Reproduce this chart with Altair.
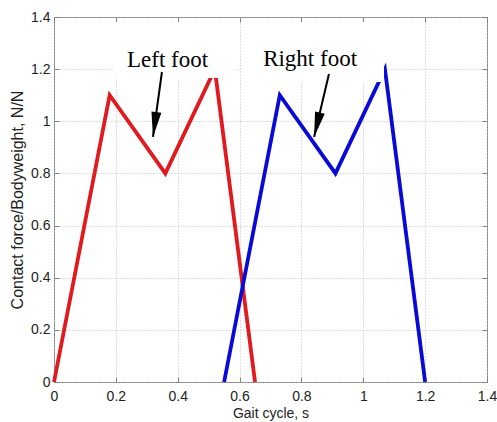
import altair as alt
import pandas as pd

# ---- data ----
left_t = [0.0, 0.18, 0.36, 0.52, 0.65]
left_f = [0.0, 1.10, 0.80, 1.20, 0.0]
right_t = [0.55, 0.73, 0.91, 1.07, 1.20]
right_f = [0.0, 1.10, 0.80, 1.20, 0.0]
ticks = [0, 0.2, 0.4, 0.6, 0.8, 1.0, 1.2, 1.4]

label_text = ["Left foot", "Right foot"]
label_x = [0.367, 0.828]
label_y = [1.208, 1.212]
box_x = [0.191, 0.605]
box_x2 = [0.592, 1.067]
box_y = [1.166, 1.151]
box_y2 = [1.381, 1.381]
arrow_x = [0.349, 0.889]
arrow_y = [1.189, 1.181]
tip_x = [0.320, 0.841]
tip_y = [0.940, 0.940]
tip_angle = [187.9, 193.4]

W, H = 433, 365
FRAME = "#808080"
TXT = "#222222"
SANS = "Liberation Sans"

left_df = pd.DataFrame({"t": left_t, "f": left_f})
right_df = pd.DataFrame({"t": right_t, "f": right_f})
ann_df = pd.DataFrame({
    "label": label_text, "lx": label_x, "ly": label_y,
    "bx": box_x, "bx2": box_x2, "by": box_y, "by2": box_y2,
    "ax": arrow_x, "ay": arrow_y, "tx": tip_x, "ty": tip_y, "ang": tip_angle,
})

xs = alt.Scale(domain=[0, 1.4], nice=False, zero=False)
ys = alt.Scale(domain=[0, 1.4], nice=False, zero=False)

common_lab = dict(values=ticks, format="~g", labelFlush=False, labelOverlap=False,
                  labelFont=SANS, labelFontSize=14, labelColor=TXT,
                  titleFont=SANS, titleFontWeight="normal", titleColor=TXT)
grid_style = dict(grid=True, gridColor="#bdbdbd", gridDash=[1, 2], gridWidth=1,
                  tickSize=0, domain=False)

x_main = alt.Axis(orient="bottom", labelPadding=7, title="Gait cycle, s",
                  titleFontSize=14, titlePadding=3, **common_lab, **grid_style)
y_main = alt.Axis(orient="left", labelPadding=4, title="Contact force/Bodyweight, N/N",
                  titleFontSize=16, titlePadding=5, **common_lab, **grid_style)

def tick_axis(orient, offset):
    return alt.Axis(orient=orient, values=ticks, offset=offset, tickSize=5,
                    tickColor=FRAME, labels=False, domain=False, grid=False, title=None)

red = alt.Chart(left_df).mark_line(color="#e01a1f", strokeWidth=3.8).encode(
    x=alt.X("t:Q", scale=xs, axis=x_main),
    y=alt.Y("f:Q", scale=ys, axis=y_main),
)
blue = alt.Chart(right_df).mark_line(color="#0a0ad8", strokeWidth=3.8).encode(
    x=alt.X("t:Q", scale=xs, axis=tick_axis("top", -5)),
    y=alt.Y("f:Q", scale=ys, axis=tick_axis("right", -5)),
)
boxes = alt.Chart(ann_df).mark_rect(color="white").encode(
    x=alt.X("bx:Q", scale=xs, axis=None), x2="bx2:Q",
    y=alt.Y("by:Q", scale=ys, axis=None), y2="by2:Q",
)
labels = alt.Chart(ann_df).mark_text(font="Liberation Serif", fontSize=23, color="black",
                                     align="center", baseline="alphabetic").encode(
    x=alt.X("lx:Q", scale=xs, axis=None),
    y=alt.Y("ly:Q", scale=ys, axis=None),
    text="label:N",
)
arrows = alt.Chart(ann_df).mark_rule(color="black", strokeWidth=2).encode(
    x=alt.X("ax:Q", scale=xs, axis=tick_axis("top", -H)), x2="tx:Q",
    y=alt.Y("ay:Q", scale=ys, axis=tick_axis("right", -W)), y2="ty:Q",
)
heads = alt.Chart(ann_df).mark_point(shape="M0,0L-0.4,2L0.4,2Z", size=625, filled=True,
                                     color="black", opacity=1, strokeWidth=0).encode(
    x=alt.X("tx:Q", scale=xs, axis=None),
    y=alt.Y("ty:Q", scale=ys, axis=None),
    angle=alt.Angle("ang:Q", scale=None),
)

chart = alt.layer(red, blue, boxes, labels, arrows, heads).resolve_axis(
    x="independent", y="independent"
).properties(
    width=W, height=H,
    autosize=alt.AutoSizeParams(type="none"),
    padding={"left": 54, "top": 17, "right": 10, "bottom": 40},
    background="white",
).configure_view(stroke=FRAME, strokeWidth=1)

chart.save("out.html", embed_options={"renderer": "svg", "actions": False})
